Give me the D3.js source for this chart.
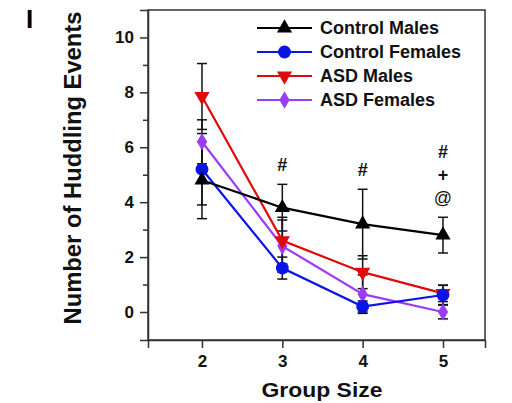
<!DOCTYPE html>
<html>
<head>
<meta charset="utf-8">
<script src="https://cdn.jsdelivr.net/npm/d3@7"></script>
<style>
body { margin: 0; background: #fff; }
text { font-family: "Liberation Sans", Arial, sans-serif; }
</style>
</head>
<body>
<script>
// group sizes on the x axis
var groupSizes = [2, 3, 4, 5];
var seriesNames = ["Control Males", "Control Females", "ASD Males", "ASD Females"];
var seriesColors = ["#000000", "#0a14e6", "#e00a0a", "#9b3cf5"];
var seriesSymbols = ["triangle", "circle", "triangleDown", "diamond"];

var controlMales = [4.8, 3.8, 3.2, 2.8];
var controlMalesErr = [1.4, 0.85, 1.27, 0.65];
var controlFemales = [5.2, 1.6, 0.2, 0.62];
var controlFemalesErr = [1.3, 0.4, 0.2, 0.35];
var asdMales = [7.85, 2.6, 1.45, 0.68];
var asdMalesErr = [1.2, 0.85, 0.6, 0.3];
var asdFemales = [6.2, 2.4, 0.65, 0.0];
var asdFemalesErr = [0.8, 0.95, 0.7, 0.25];

var yTicks = [0, 2, 4, 6, 8, 10];
var yMinorTicks = [1, 3, 5, 7, 9];

// significance marks above the group sizes
var markGroups = [3, 4, 5, 5, 5];
var markTexts = ["#", "#", "#", "+", "@"];
var markY = [165, 170, 152, 175, 198];

var allValues = [controlMales, controlFemales, asdMales, asdFemales];
var allErrs = [controlMalesErr, controlFemalesErr, asdMalesErr, asdFemalesErr];

var svg = d3.select("body").append("svg")
	.attr("width", 512)
	.attr("height", 403);

var x = d3.scaleLinear().domain([1.328, 5.523]).range([148, 485]);
var y = d3.scaleLinear().domain([-1.02, 11]).range([340, 10]);

// frame
svg.append("rect")
	.attr("x", 148).attr("y", 10)
	.attr("width", 337).attr("height", 330)
	.attr("fill", "none")
	.attr("stroke", "#333")
	.attr("stroke-width", 1.5);

svg.append("g")
	.attr("transform", "translate(148,0)")
	.call(d3.axisLeft(y).tickValues(yTicks).tickSize(8).tickPadding(6).tickFormat(d3.format("d")));
svg.append("g")
	.attr("transform", "translate(148,0)")
	.call(d3.axisLeft(y).tickValues(yMinorTicks).tickSize(5).tickFormat(""))
	.select(".domain").remove();

svg.append("g")
	.attr("transform", "translate(0,340)")
	.call(d3.axisBottom(x).tickValues(groupSizes).tickSize(8).tickPadding(7).tickFormat(d3.format("d")));

svg.selectAll(".tick line").attr("stroke", "#333").attr("stroke-width", 1.5);
svg.selectAll(".domain").attr("stroke", "#333").attr("stroke-width", 1.5);
svg.selectAll(".tick text")
	.attr("font-family", "Liberation Sans, Arial, sans-serif")
	.attr("font-weight", "bold")
	.attr("font-size", 17)
	.attr("fill", "#111");

// error bars (black, drawn first)
for(var s = 0; s < allValues.length; s++){
	for(var i = 0; i < groupSizes.length; i++){
		var cx = x(groupSizes[i]);
		var hi = y(allValues[s][i] + allErrs[s][i]);
		var lo = y(allValues[s][i] - allErrs[s][i]);
		svg.append("line")
			.attr("x1", cx).attr("x2", cx)
			.attr("y1", hi).attr("y2", lo)
			.attr("stroke", "#111").attr("stroke-width", 1.5);
		[hi, lo].forEach(function(yy){
			svg.append("line")
				.attr("x1", cx - 5).attr("x2", cx + 5)
				.attr("y1", yy).attr("y2", yy)
				.attr("stroke", "#111").attr("stroke-width", 1.5);
		});
	}
}

var symbolMap = {
	triangle: d3.symbolTriangle,
	circle: d3.symbolCircle,
	diamond: d3.symbolDiamond
};
function drawMarker(g, kind, cx, cy, color){
	if(kind == "triangleDown"){
		g.append("path")
			.attr("d", d3.symbol().type(d3.symbolTriangle).size(100)())
			.attr("transform", "translate(" + cx + "," + cy + ") rotate(180)")
			.attr("fill", color);
	}else{
		var size = kind == "circle" ? 130 : (kind == "diamond" ? 90 : 100);
		g.append("path")
			.attr("d", d3.symbol().type(symbolMap[kind]).size(size)())
			.attr("transform", "translate(" + cx + "," + cy + ")")
			.attr("fill", color);
	}
}

var line = d3.line()
	.x(function(d, i){ return x(groupSizes[i]); })
	.y(function(d){ return y(d); });

// draw series back to front so black is on top
var order = [3, 2, 1, 0];
order.forEach(function(s){
	svg.append("path")
		.datum(allValues[s])
		.attr("d", line)
		.attr("fill", "none")
		.attr("stroke", seriesColors[s])
		.attr("stroke-width", 2.2);
	for(var i = 0; i < groupSizes.length; i++){
		drawMarker(svg, seriesSymbols[s], x(groupSizes[i]), y(allValues[s][i]), seriesColors[s]);
	}
});

// significance marks
for(var m = 0; m < markTexts.length; m++){
	svg.append("text")
		.attr("x", x(markGroups[m]))
		.attr("y", markY[m])
		.attr("dy", ".35em")
		.attr("text-anchor", "middle")
		.attr("font-size", 18)
		.attr("font-weight", markTexts[m] == "@" ? "normal" : "bold")
		.attr("fill", "#111")
		.text(markTexts[m]);
}

// legend
for(var s = 0; s < seriesNames.length; s++){
	var ly = 28 + s * 24;
	svg.append("line")
		.attr("x1", 257).attr("x2", 312)
		.attr("y1", ly).attr("y2", ly)
		.attr("stroke", seriesColors[s]).attr("stroke-width", 2.2);
	drawMarker(svg, seriesSymbols[s], 284.5, ly, seriesColors[s]);
	svg.append("text")
		.attr("x", 320)
		.attr("y", ly)
		.attr("dy", ".36em")
		.attr("font-size", 18)
		.attr("font-weight", "bold")
		.attr("fill", "#111")
		.text(seriesNames[s]);
}

// axis titles
svg.append("text")
	.attr("transform", "translate(81,168) rotate(-90)")
	.attr("text-anchor", "middle")
	.attr("font-size", 24)
	.attr("font-weight", "bold")
	.attr("textLength", 313)
	.attr("lengthAdjust", "spacingAndGlyphs")
	.attr("fill", "#111")
	.text("Number of Huddling Events");

svg.append("text")
	.attr("x", 322)
	.attr("y", 397)
	.attr("text-anchor", "middle")
	.attr("font-size", 21)
	.attr("font-weight", "bold")
	.attr("textLength", 121)
	.attr("lengthAdjust", "spacingAndGlyphs")
	.attr("fill", "#111")
	.text("Group Size");

// panel letter
svg.append("text")
	.attr("x", 26)
	.attr("y", 28)
	.attr("font-size", 26)
	.attr("font-weight", "bold")
	.attr("fill", "#000")
	.text("I");
</script>
</body>
</html>
